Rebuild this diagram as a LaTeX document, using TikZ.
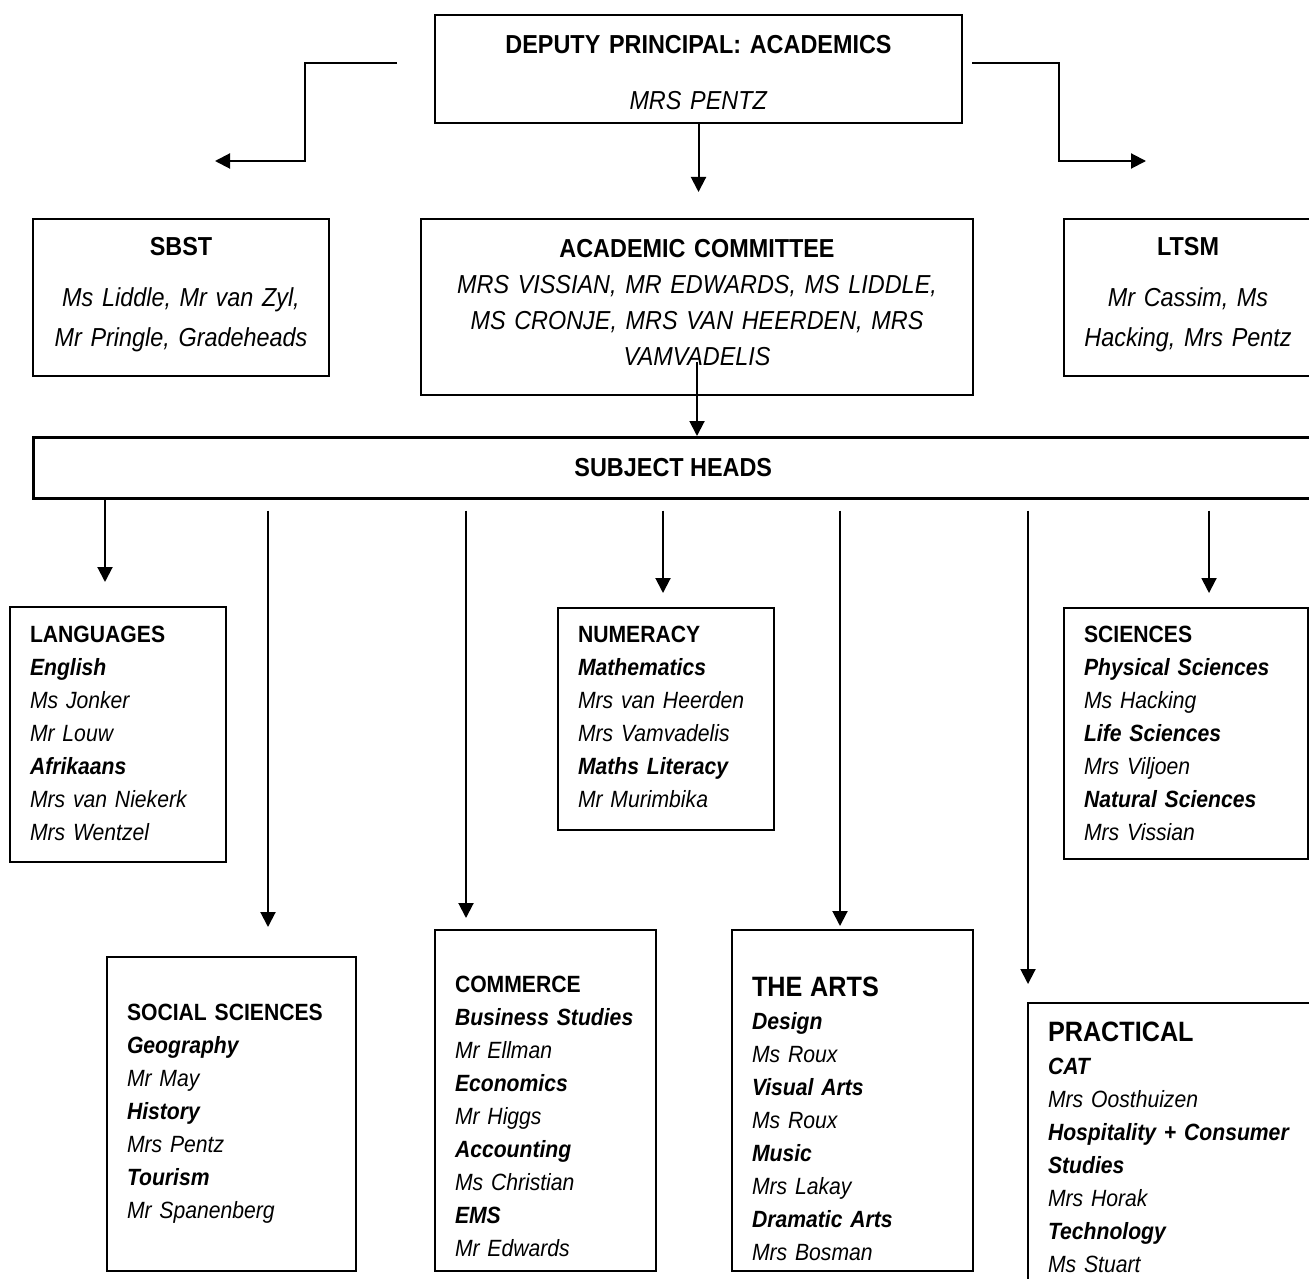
\documentclass[tikz,border=0pt]{standalone}
\usepackage{fontspec}
\setmainfont{Liberation Sans}[FakeStretch=0.9]
\usetikzlibrary{
arrows.meta,
calc
}
\newcommand{\orgsub}[1]{\textbf{\textit{#1}}}
\newcommand{\orgname}[1]{\textit{#1}}
\newcommand{\orghead}[1]{{\fontsize{14}{16.5}\selectfont\textbf{#1}}}
\tikzset{
orgbox/.style={draw, line width=1pt, anchor=north west, inner xsep=0pt, inner ysep=0pt,
  align=center, font=\fontsize{13}{20}\selectfont},
listbox/.style={draw, line width=1pt, anchor=north west, inner xsep=10pt, inner ysep=0pt,
  align=left, font=\fontsize{11.75}{16.5}\selectfont},
orgarrow/.style={-{Triangle[length=7.5pt,width=7.5pt]}, line width=1pt}
}

\begin{document}
\begin{tikzpicture}[x=0.5pt, y=-0.5pt]
\useasboundingbox (0,0) rectangle (1309,1278);
% top level
\node[orgbox, text width=263.5pt, text height=19.5pt, text depth=34.5pt,
  font=\fontsize{13}{28}\selectfont] (dp) at (434,14)
  {\textbf{DEPUTY PRINCIPAL: ACADEMICS}\\\orgname{MRS PENTZ}};
\node[orgbox, text width=148pt, text height=18.5pt, text depth=60pt] (sbst) at (32,218)
  {\textbf{SBST}\\[5.5pt]\orgname{Ms Liddle, Mr van Zyl,}\\\orgname{Mr Pringle, Gradeheads}};
\node[orgbox, text width=276pt, text height=19pt, text depth=69pt,
  font=\fontsize{13}{18}\selectfont] (acad) at (420,218)
  {\textbf{ACADEMIC COMMITTEE}\\\orgname{MRS VISSIAN, MR EDWARDS, MS LIDDLE,}\\
   \orgname{MS CRONJE, MRS VAN HEERDEN, MRS}\\\orgname{VAMVADELIS}};
\node[orgbox, text width=124pt, text height=18.5pt, text depth=60pt] (ltsm) at (1063,218)
  {\textbf{LTSM}\\[5.5pt]\orgname{Mr Cassim, Ms}\\\orgname{Hacking, Mrs Pentz}};
\node[orgbox, minimum width=640pt, minimum height=30.5pt, line width=1.3pt] (subj) at (32,436)
  {\textbf{SUBJECT HEADS}};

% subject groups
\node[listbox, text width=88pt, text height=17.75pt, text depth=109.75pt] (lang) at (9,606)
  {\textbf{LANGUAGES}\\\orgsub{English}\\\orgname{Ms Jonker}\\\orgname{Mr Louw}\\
   \orgsub{Afrikaans}\\\orgname{Mrs van Niekerk}\\\orgname{Mrs Wentzel}};
\node[listbox, text width=88pt, text height=17.25pt, text depth=93.75pt] (num) at (557,607)
  {\textbf{NUMERACY}\\\orgsub{Mathematics}\\\orgname{Mrs~van~Heerden}\\\orgname{Mrs Vamvadelis}\\
   \orgsub{Maths Literacy}\\\orgname{Mr Murimbika}};
\node[listbox, text width=102pt, text height=17.25pt, text depth=108.25pt] (sci) at (1063,607)
  {\textbf{SCIENCES}\\\orgsub{Physical~Sciences}\\\orgname{Ms Hacking}\\\orgsub{Life Sciences}\\
   \orgname{Mrs Viljoen}\\\orgsub{Natural~Sciences}\\\orgname{Mrs Vissian}};
\node[listbox, text width=104.5pt, text height=31.75pt, text depth=125.25pt] (soc) at (106,956)
  {\textbf{SOCIAL~SCIENCES}\\\orgsub{Geography}\\\orgname{Mr May}\\\orgsub{History}\\
   \orgname{Mrs Pentz}\\\orgsub{Tourism}\\\orgname{Mr Spanenberg}};
\node[listbox, text width=90.5pt, text height=31.25pt, text depth=139.25pt] (com) at (434,929)
  {\textbf{COMMERCE}\\\orgsub{Business~Studies}\\\orgname{Mr Ellman}\\\orgsub{Economics}\\
   \orgname{Mr Higgs}\\\orgsub{Accounting}\\\orgname{Ms Christian}\\\orgsub{EMS}\\\orgname{Mr Edwards}};
\node[listbox, text width=100.5pt, text height=33pt, text depth=137.5pt] (arts) at (731,929)
  {\orghead{THE ARTS}\\\orgsub{Design}\\\orgname{Ms Roux}\\\orgsub{Visual Arts}\\\orgname{Ms Roux}\\
   \orgsub{Music}\\\orgname{Mrs Lakay}\\\orgsub{Dramatic Arts}\\\orgname{Mrs Bosman}};
\node[listbox, text width=140pt, text height=19pt, text depth=200pt] (prac) at (1027,1002)
  {\orghead{PRACTICAL}\\\orgsub{CAT}\\\orgname{Mrs Oosthuizen}\\\orgsub{Hospitality + Consumer}\\
   \orgsub{Studies}\\\orgname{Mrs Horak}\\\orgsub{Technology}\\\orgname{Ms Stuart}};

% connectors
\coordinate (dpL) at (397,63);
\coordinate (dpR) at (972,63);
\coordinate (sbstin) at (215,161);
\coordinate (ltsmin) at (1146,161);
\coordinate (acadin) at (697,192);
\coordinate (acadout) at (697,362);
\coordinate (langin) at (105,582);
\coordinate (socin) at (268,927);
\coordinate (comin) at (466,918);
\coordinate (numin) at (663,593);
\coordinate (artsin) at (840,926);
\coordinate (pracin) at (1028,984);
\coordinate (sciin) at (1209,593);
\draw[orgarrow] (dpL) -- ++(-92,0) |- (sbstin);
\draw[orgarrow] (dpR) -- ++(87,0) |- (ltsmin);
\draw[orgarrow] (dp.south) -- (dp.south |- acadin);
\draw[orgarrow] (acadout) -- (acadout |- subj.north);
\draw[orgarrow] (langin |- subj.south) -- (langin);
\foreach \t in {socin,comin,numin,artsin,pracin,sciin}
\draw[orgarrow] ($(\t |- subj.south)+(0,11)$) -- (\t);
\end{tikzpicture}
\end{document}
